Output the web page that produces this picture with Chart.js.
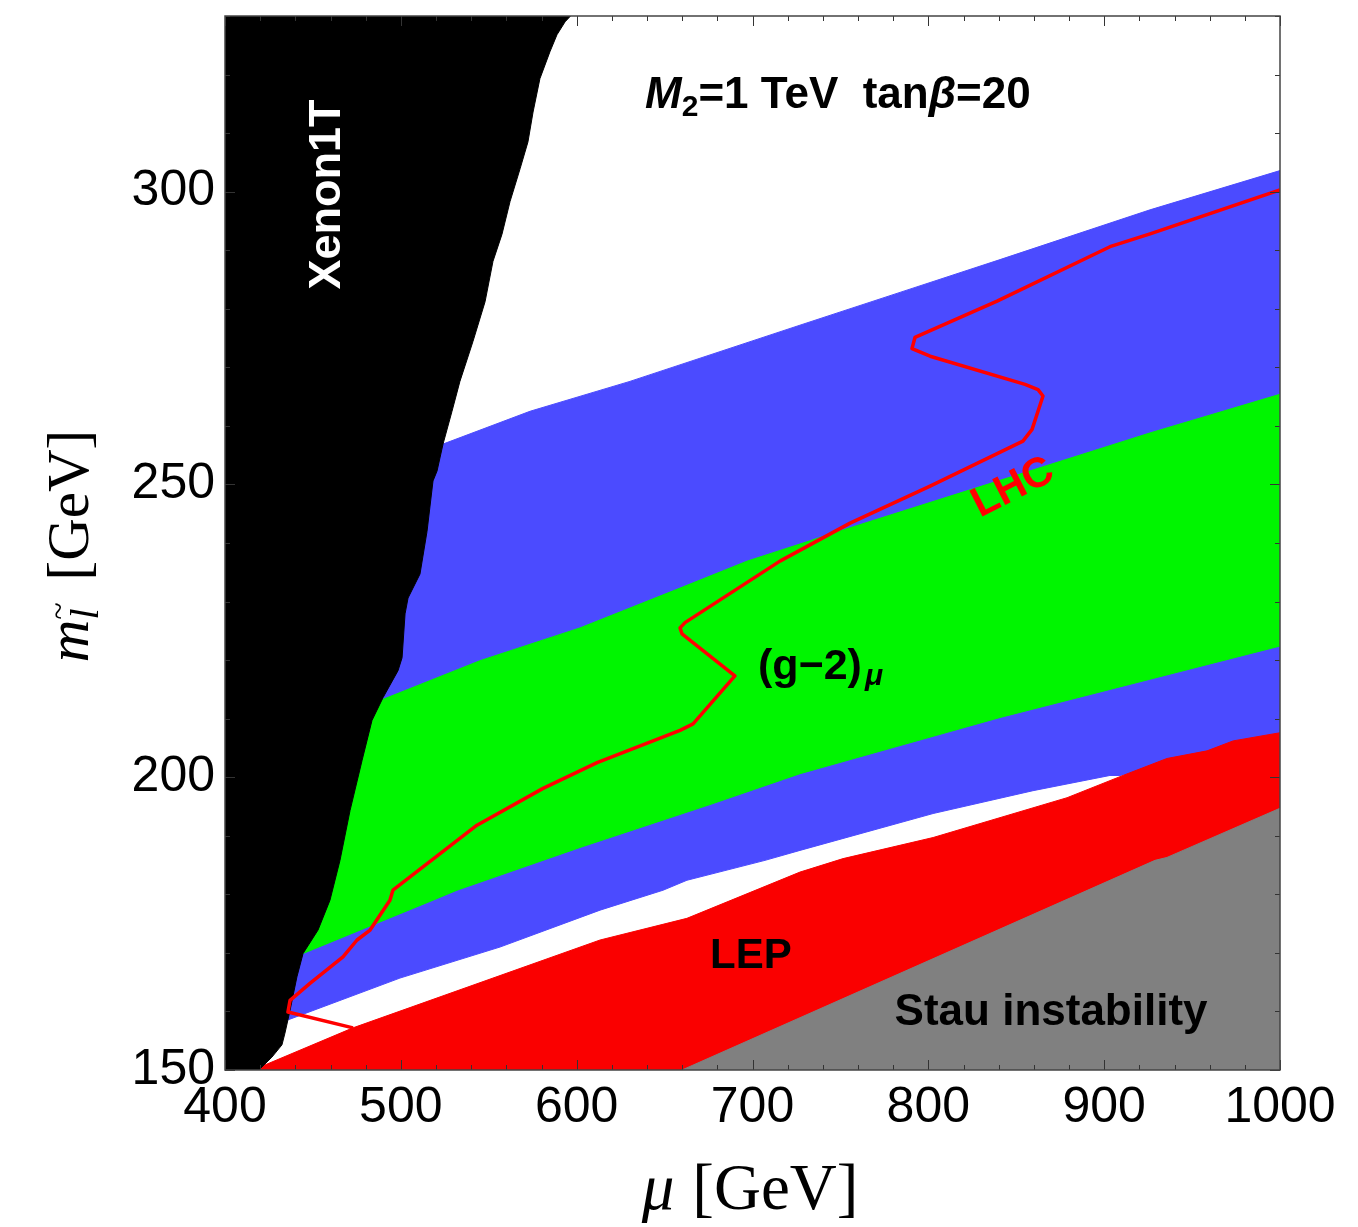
<!DOCTYPE html>
<html><head><meta charset="utf-8">
<script src="https://cdn.jsdelivr.net/npm/chart.js@4.4.0/dist/chart.umd.min.js"></script>
<style>html,body{margin:0;padding:0;background:#fff;}canvas{display:block;}</style>
</head><body>
<canvas id="c" width="1358" height="1227" style="width:1358px;height:1227px"></canvas>
<script>
// ---- axes ----
const xMin = 400, xMax = 1000, yMin = 150, yMax = 330;
const xTickStep = 100, yTickStep = 50, xMinorStep = 20, yMinorStep = 10;

// ---- Xenon1T excluded region (mu [GeV], m_slepton [GeV]) ----
const xenonMu = [599.6,593.4,588.8,584.8,579.1,575.2,572.3,567.8,562.1,557.5,552.4,547.9,541.0,533.6,529.1,524.0,520.6,518.3,514.9,510.9,504.1,502.4,500.7,498.4,489.9,483.6,477.9,471.1,465.4,459.7,452.9,444.4,440.9,437.0,434.1,432.4,426.7,415.9,398,398];
const xenonM  = [331,329.0,326.8,323.9,319.3,313.6,308.5,303.9,298.3,292.7,288.1,281.2,274.4,267.6,262.5,256.9,252.3,250.6,242.0,234.7,230.6,227.9,220.4,218.2,213.6,209.7,202.8,194.3,185.8,179.0,173.9,169.9,165.9,160.2,156.3,154.3,152.2,149,149,331];

// ---- (g-2) 2 sigma band (blue) ----
const blueUpperMu = [400,524.0,573.5,630.3,727.0,783.9,840.8,926.1,1000];
const blueUpperM  = [246.3,256.9,262.5,267.6,277.2,282.8,288.4,296.9,303.6];
const blueLowerMu = [1000,909.0,903.3,859.5,802.7,727.0,707.1,662.7,649.1,613.3,556.4,499.5,435.3,400];
const blueLowerM  = [205.4,200.3,200.3,197.7,193.8,187.5,185.8,182.4,180.7,177.3,171.0,165.7,158.5,155.1];

// ---- (g-2) 1 sigma band (green) ----
const greenUpperMu = [400,488.2,545.0,601.9,658.8,696.9,755.5,840.8,926.1,1000];
const greenUpperM  = [202.5,213.1,219.9,225.5,232.3,236.9,242.6,250.7,258.8,265.4];
const greenLowerMu = [1000,840.8,783.9,727.0,677.5,601.9,531.9,518.3,444.4,400];
const greenLowerM  = [222.4,210.2,205.4,200.6,195.5,188.0,180.7,179.0,169.9,166.2];

// ---- LEP excluded region (red) ----
const lepMu = [402.8,415.9,472.8,613.3,662.7,727.0,751.5,802.7,878.9,910.7,935.7,958.5,973.3,1000,1002,1002,402.8];
const lepM  = [148.3,150,157.2,172.2,175.9,183.8,186.1,189.7,196.5,200.3,203.2,204.5,206.2,207.6,207.6,148,148];

// ---- Stau instability (gray) ----
const stauMu = [659.9,928.9,935.7,1000,1002,1002,655];
const stauM  = [150,185.8,186.3,194.7,194.9,148,148];

// ---- LHC exclusion contour (red line) ----
const lhcMu = [472.8,435.8,437.0,448.3,467.1,475.1,482.5,493.8,495.5,543.3,580.9,611.6,658.8,666.2,690.0,659.9,658.8,661.6,715.6,755.5,801.0,853.8,859.0,865.2,862.4,855.0,801.0,790.7,792.4,839.1,903.3,926.1,1000];
const lhcM  = [157.2,159.9,161.9,164.8,169.3,172.2,173.9,179.0,180.7,191.8,198.1,202.5,208.0,209.1,217.3,224.5,225.5,226.4,236.9,243.4,249.7,257.4,259.4,265.1,266.2,267.1,271.9,273.2,275.1,281.3,290.6,292.8,300.3];

const pts = (xs, ys) => xs.map((v, i) => ({x: v, y: ys[i]}));
const band = (ux, uy, lx, ly) => pts(ux.concat(lx), uy.concat(ly));

const SANS = '"Liberation Sans", Arial, Helvetica, sans-serif';
const SERIF = '"Liberation Serif", "Times New Roman", serif';

function region(label, data, color) {
  return {label, data, borderColor: color, backgroundColor: color, borderWidth: 1,
          pointRadius: 0, fill: 'shape', tension: 0, clip: 0};
}

const decor = {
  id: 'decor',
  afterDatasetsDraw(chart) {
    const {ctx, chartArea: a, scales: {x, y}} = chart;
    ctx.save();
    // inward ticks on all four sides
    ctx.strokeStyle = '#333'; ctx.lineWidth = 1;
    ctx.beginPath();
    for (let v = xMin; v <= xMax + 1e-6; v += xMinorStep) {
      const px = Math.round(x.getPixelForValue(v)) + 0.5;
      const L = (v % xTickStep === 0) ? 10 : 5;
      ctx.moveTo(px, a.bottom); ctx.lineTo(px, a.bottom - L);
      ctx.moveTo(px, a.top); ctx.lineTo(px, a.top + L);
    }
    for (let v = yMin; v <= yMax + 1e-6; v += yMinorStep) {
      const py = Math.round(y.getPixelForValue(v)) + 0.5;
      const L = (v % yTickStep === 0) ? 10 : 5;
      ctx.moveTo(a.left, py); ctx.lineTo(a.left + L, py);
      ctx.moveTo(a.right, py); ctx.lineTo(a.right - L, py);
    }
    ctx.stroke();
    ctx.strokeStyle = '#444'; ctx.lineWidth = 1.5;
    ctx.strokeRect(a.left, a.top, a.width, a.height);

    const P = (mx, my) => [x.getPixelForValue(mx), y.getPixelForValue(my)];

    // title
    let [tx, ty] = P(638.9, 314.3);
    ctx.fillStyle = '#000'; ctx.textAlign = 'left'; ctx.textBaseline = 'alphabetic';
    const seg = (t, font, dy) => { ctx.font = font; ctx.fillText(t, tx, ty + (dy||0)); tx += ctx.measureText(t).width; };
    seg('M', 'italic bold 44px ' + SANS);
    seg('2', 'bold 30px ' + SANS, 8);
    seg('=1 TeV  tan', 'bold 44px ' + SANS);
    seg('\u03B2', 'italic bold 44px ' + SANS);
    seg('=20', 'bold 44px ' + SANS);

    // Xenon1T
    let [px, py] = P(458.6, 299.5);
    ctx.save(); ctx.translate(px, py); ctx.rotate(-Math.PI / 2);
    ctx.fillStyle = '#fff'; ctx.font = 'bold 45px ' + SANS; ctx.textAlign = 'center'; ctx.textBaseline = 'middle';
    ctx.fillText('Xenon1T', 0, 0); ctx.restore();

    // LHC
    [px, py] = P(848.2, 249.4);
    ctx.save(); ctx.translate(px, py); ctx.rotate(-27 * Math.PI / 180);
    ctx.fillStyle = '#f00'; ctx.font = 'bold 42px ' + SANS; ctx.textAlign = 'center'; ctx.textBaseline = 'middle';
    ctx.fillText('LHC', 0, 0); ctx.restore();

    // (g-2)_mu
    [tx, ty] = P(703.1, 216.8);
    ctx.fillStyle = '#000'; ctx.textAlign = 'left'; ctx.textBaseline = 'alphabetic';
    seg('(g\u22122)', 'bold 43px ' + SANS);
    tx += 3;
    seg('\u03BC', 'italic bold 30px ' + SANS, 6);

    // LEP
    [px, py] = P(699.1, 167.4);
    ctx.textAlign = 'center'; ctx.font = 'bold 42px ' + SANS; ctx.fillText('LEP', px, py);
    // Stau instability
    [px, py] = P(869.8, 157.7);
    ctx.font = 'bold 44px ' + SANS; ctx.fillText('Stau instability', px, py);

    // x-axis title
    const cx = 750;
    ctx.textAlign = 'left';
    ctx.font = 'italic 65px ' + SERIF;
    const wMu = ctx.measureText('\u03BC').width;
    ctx.font = '65px ' + SERIF;
    const wG = ctx.measureText('[GeV]').width;
    const gap = 18;
    let sx = cx - (wMu + gap + wG) / 2;
    ctx.font = 'italic 65px ' + SERIF; ctx.fillText('\u03BC', sx, 1209);
    ctx.font = '65px ' + SERIF; ctx.fillText('[GeV]', sx + wMu + gap, 1209);

    // y-axis title (rotated)
    ctx.save(); ctx.translate(88, 546); ctx.rotate(-Math.PI / 2);
    ctx.font = 'italic 59px ' + SERIF; const wm = ctx.measureText('m').width;
    ctx.font = 'italic 40px ' + SERIF; const wl = ctx.measureText('l').width;
    ctx.font = '59px ' + SERIF; const wg = ctx.measureText('[GeV]').width;
    const g2 = 24;
    let s = -(wm + wl + 4 + g2 + wg) / 2;
    ctx.font = 'italic 59px ' + SERIF; ctx.fillText('m', s, 0); s += wm;
    ctx.font = 'italic 40px ' + SERIF; ctx.fillText('l', s, 10);
    ctx.font = '32px ' + SERIF; ctx.textAlign = 'center'; ctx.fillText('~', s + wl / 2 + 3, -19); ctx.textAlign = 'left';
    s += wl + 4 + g2;
    ctx.font = '59px ' + SERIF; ctx.fillText('[GeV]', s, 0);
    ctx.restore();

    ctx.restore();
  }
};

new Chart(document.getElementById('c'), {
  type: 'line',
  data: {
    datasets: [
      {label: 'LHC', data: pts(lhcMu, lhcM), borderColor: '#ff0000', borderWidth: 3.5, pointRadius: 0, fill: false, tension: 0, clip: 0},
      region('Xenon1T', pts(xenonMu, xenonM), '#000000'),
      region('Stau instability', pts(stauMu, stauM), '#808080'),
      region('LEP', pts(lepMu, lepM), '#fa0000'),
      region('(g-2) 1 sigma', band(greenUpperMu, greenUpperM, greenLowerMu, greenLowerM), '#00f500'),
      region('(g-2) 2 sigma', band(blueUpperMu, blueUpperM, blueLowerMu, blueLowerM), '#4b4bff')
    ]
  },
  options: {
    responsive: false, animation: false, devicePixelRatio: 1,
    layout: {padding: {top: 16, right: 78, bottom: 0, left: 0}},
    plugins: {legend: {display: false}, tooltip: {enabled: false}, filler: {propagate: false}},
    elements: {line: {borderJoinStyle: 'round'}},
    scales: {
      x: {type: 'linear', min: xMin, max: xMax,
          ticks: {stepSize: xTickStep, color: '#000', font: {size: 50, family: SANS}, padding: 8, maxRotation: 0, autoSkip: false, includeBounds: false,
                  callback: v => String(v)},
          grid: {display: false, drawTicks: false, tickLength: 0}, border: {display: false},
          afterFit(s) { s.height = 157; s.paddingLeft = 0; s.paddingRight = 0; }},
      y: {type: 'linear', min: yMin, max: yMax,
          ticks: {stepSize: yTickStep, color: '#000', font: {size: 50, family: SANS}, padding: 10, autoSkip: false, includeBounds: false,
                  callback: v => String(v)},
          grid: {display: false, drawTicks: false, tickLength: 0}, border: {display: false},
          afterFit(s) { s.width = 225; s.paddingTop = 0; s.paddingBottom = 0; }}
    }
  },
  plugins: [decor]
});
</script>
</body></html>
